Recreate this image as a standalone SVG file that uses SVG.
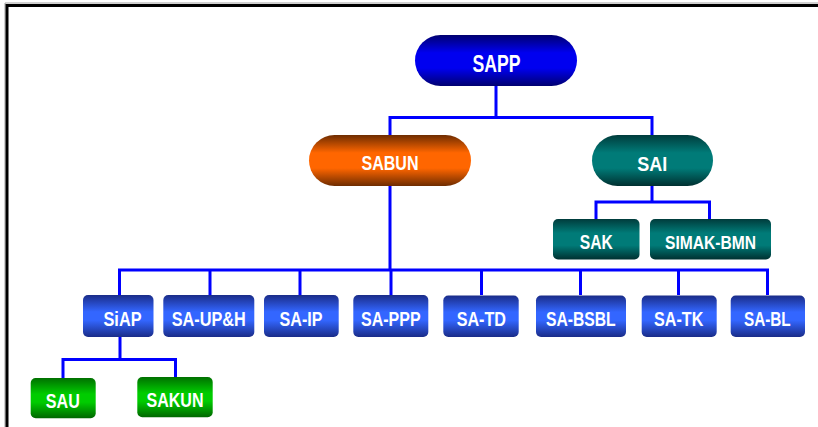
<svg xmlns="http://www.w3.org/2000/svg" width="818" height="427" viewBox="0 0 818 427">
<defs>
<linearGradient id="gNavy" x1="0" y1="0" x2="0" y2="1">
<stop offset="0" stop-color="#000070"/><stop offset="0.35" stop-color="#0000F0"/><stop offset="0.65" stop-color="#0000F0"/><stop offset="1" stop-color="#000070"/>
</linearGradient>
<linearGradient id="gOrange" x1="0" y1="0" x2="0" y2="1">
<stop offset="0" stop-color="#6E2C00"/><stop offset="0.35" stop-color="#FF6600"/><stop offset="0.65" stop-color="#FF6600"/><stop offset="1" stop-color="#6E2C00"/>
</linearGradient>
<linearGradient id="gTeal" x1="0" y1="0" x2="0" y2="1">
<stop offset="0" stop-color="#003C3C"/><stop offset="0.35" stop-color="#007B78"/><stop offset="0.65" stop-color="#007B78"/><stop offset="1" stop-color="#003030"/>
</linearGradient>
<linearGradient id="gBlue" x1="0" y1="0" x2="0" y2="1">
<stop offset="0" stop-color="#1A2C88"/><stop offset="0.4" stop-color="#3366FF"/><stop offset="0.6" stop-color="#3366FF"/><stop offset="1" stop-color="#1A2C88"/>
</linearGradient>
<linearGradient id="gGreen" x1="0" y1="0" x2="0" y2="1">
<stop offset="0" stop-color="#007000"/><stop offset="0.4" stop-color="#00CC00"/><stop offset="0.6" stop-color="#00CC00"/><stop offset="1" stop-color="#006600"/>
</linearGradient>
</defs>
<style>
text{font-family:"Liberation Sans",Arial,sans-serif;font-weight:bold;fill:#FFFFFF;text-anchor:middle}
.t1{font-size:23px}
.t2{font-size:20px}
.t3{font-size:18px}
.conn{stroke:#0000FF;stroke-width:3;fill:none}
.frame{stroke:#000000;stroke-width:3;fill:none}
</style>
<rect x="0" y="0" width="818" height="427" fill="#FFFFFF"/>
<path d="M5,427 V3 H818" stroke="#A0A0A0" stroke-width="1" fill="none"/>
<path class="frame" d="M7,427 V5.5 H818"/>
<g id="connectors">
<path class="conn" d="M496,86 V117.5 M390,117.5 H652.5 M390,116 V135 M652,116 V135"/>
<path class="conn" d="M652,186 V202 M596,202 H710 M596,200.5 V219 M709.5,200.5 V219"/>
<path class="conn" d="M390,186 V270 M118,270 H769 M119.5,268.5 V295 M210,270 V295 M300,270 V295 M391,270 V295 M481.5,270 V295 M580.5,270 V295 M678.5,270 V295 M767.5,268.5 V295"/>
<path class="conn" d="M120,337 V359.5 M62,359.5 H177 M63,358 V378 M175.5,358 V377"/>
</g>
<g id="SAPP"><rect x="415" y="35" width="162" height="51" rx="25.5" fill="url(#gNavy)"/><text class="t1" x="496.5" y="71.5" textLength="48" lengthAdjust="spacingAndGlyphs">SAPP</text></g>
<g id="SABUN"><rect x="309" y="135" width="162" height="51" rx="25.5" fill="url(#gOrange)"/><text class="t2" x="390" y="169.5" textLength="57" lengthAdjust="spacingAndGlyphs">SABUN</text></g>
<g id="SAI"><rect x="592" y="135" width="121" height="51" rx="25.5" fill="url(#gTeal)"/><text class="t2" x="652.3" y="171" textLength="30" lengthAdjust="spacingAndGlyphs">SAI</text></g>
<g id="SAK"><rect x="553" y="219" width="86.5" height="40.5" rx="5" fill="url(#gTeal)"/><text class="t2" x="596.3" y="249.3" textLength="33" lengthAdjust="spacingAndGlyphs">SAK</text></g>
<g id="SIMAK-BMN"><rect x="650" y="219" width="121" height="40.5" rx="5" fill="url(#gTeal)"/><text class="t3" x="710.5" y="249.3" textLength="91" lengthAdjust="spacingAndGlyphs">SIMAK-BMN</text></g>
<g id="SiAP"><rect x="83" y="295" width="70.5" height="42" rx="5" fill="url(#gBlue)"/><text class="t2" x="122.5" y="325.8" textLength="38" lengthAdjust="spacingAndGlyphs">SiAP</text></g>
<g id="SA-UPH"><rect x="163.3" y="295" width="91" height="42" rx="5" fill="url(#gBlue)"/><text class="t2" x="208.7" y="325.8" textLength="74" lengthAdjust="spacingAndGlyphs">SA-UP&amp;H</text></g>
<g id="SA-IP"><rect x="264" y="295" width="74.7" height="42" rx="5" fill="url(#gBlue)"/><text class="t2" x="301" y="325.8" textLength="43" lengthAdjust="spacingAndGlyphs">SA-IP</text></g>
<g id="SA-PPP"><rect x="353.3" y="295" width="75" height="42" rx="5" fill="url(#gBlue)"/><text class="t2" x="390.8" y="325.8" textLength="59.5" lengthAdjust="spacingAndGlyphs">SA-PPP</text></g>
<g id="SA-TD"><rect x="443.3" y="295.5" width="75.4" height="41.5" rx="5" fill="url(#gBlue)"/><text class="t2" x="481.3" y="326" textLength="49.3" lengthAdjust="spacingAndGlyphs">SA-TD</text></g>
<g id="SA-BSBL"><rect x="536" y="295.5" width="90" height="41.5" rx="5" fill="url(#gBlue)"/><text class="t2" x="580.8" y="326" textLength="69.7" lengthAdjust="spacingAndGlyphs">SA-BSBL</text></g>
<g id="SA-TK"><rect x="641.7" y="295.5" width="75" height="41.5" rx="5" fill="url(#gBlue)"/><text class="t2" x="678.7" y="326" textLength="49.3" lengthAdjust="spacingAndGlyphs">SA-TK</text></g>
<g id="SA-BL"><rect x="730.7" y="295.5" width="74.3" height="41.5" rx="5" fill="url(#gBlue)"/><text class="t2" x="767.3" y="326" textLength="46.7" lengthAdjust="spacingAndGlyphs">SA-BL</text></g>
<g id="SAU"><rect x="30.7" y="378" width="65" height="40.3" rx="5" fill="url(#gGreen)"/><text class="t2" x="62.8" y="408.3" textLength="34" lengthAdjust="spacingAndGlyphs">SAU</text></g>
<g id="SAKUN"><rect x="137.3" y="377" width="75.4" height="40.3" rx="5" fill="url(#gGreen)"/><text class="t2" x="175" y="407.3" textLength="57" lengthAdjust="spacingAndGlyphs">SAKUN</text></g>
</svg>
